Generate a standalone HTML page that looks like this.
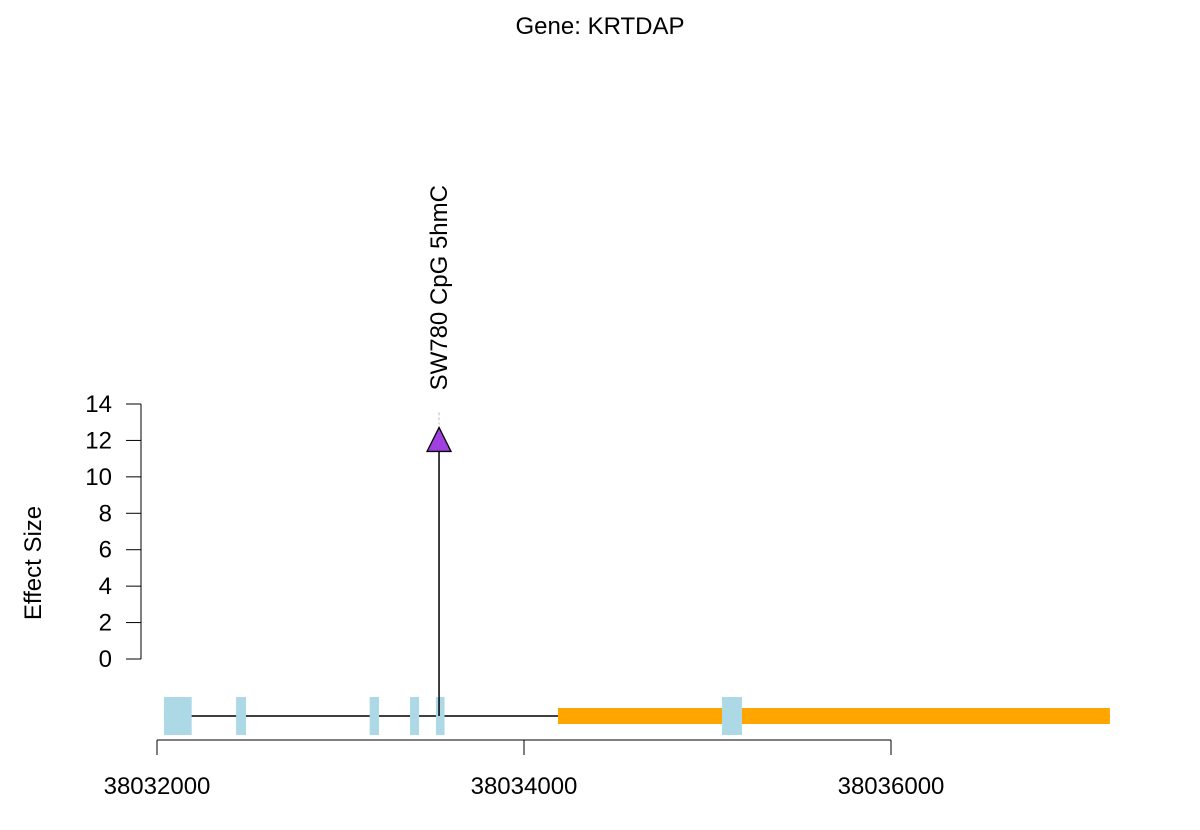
<!DOCTYPE html>
<html><head><meta charset="utf-8"><style>
body{margin:0;background:#fff}
svg{display:block;font-family:"Liberation Sans",sans-serif}
</style></head><body>
<svg id="chart" width="1200" height="830">
<text x="600" y="34" text-anchor="middle" font-size="24">Gene: KRTDAP</text>
<text transform="translate(41,563) rotate(-90)" text-anchor="middle" font-size="24">Effect Size</text>
<g id="g"></g>
</svg>
<script>
const xTicks=[38032000,38034000,38036000];
const yTicks=[0,2,4,6,8,10,12,14];
const exonStarts=[38032038,38032431,38033159,38033379,38033520,38035079];
const exonEnds=[38032189,38032485,38033210,38033428,38033567,38035188];
const geneStart=38032038, geneEnd=38037193;
const utrStart=38034185, utrEnd=38037193;
const pointPos=[38033537];
const pointVal=[12];
const pointLabels=["SW780 CpG 5hmC"];
const NS="http://www.w3.org/2000/svg";
const g=document.getElementById('g');
const X=v=>157+(v-38032000)*367/2000;
const Y=v=>659-v*(255/14);
function mk(t,a){const e=document.createElementNS(NS,t);for(const k in a)e.setAttribute(k,a[k]);g.appendChild(e);return e;}
let e=mk('line',{x1:141,x2:141,y1:Y(0),y2:Y(14),stroke:'#000'});


yTicks.forEach(t=>{
 let l=mk('line',{x1:126,x2:141,y1:Y(t),y2:Y(t),stroke:'#000'});
 
 
 let tx=mk('text',{x:112,y:Y(t)+8,'text-anchor':'end','font-size':24});
 tx.textContent=t;
 
 
});
e=mk('line',{x1:X(xTicks[0]),x2:X(xTicks[xTicks.length-1]),y1:740,y2:740,stroke:'#000'});


xTicks.forEach(t=>{
 let l=mk('line',{x1:X(t),x2:X(t),y1:740,y2:755,stroke:'#000'});
 
 
 let tx=mk('text',{x:X(t),y:794,'text-anchor':'middle','font-size':24});
 tx.textContent=t;
 
 
});
e=mk('line',{x1:X(geneStart),x2:X(geneEnd),y1:716,y2:716,stroke:'#000','stroke-width':1.5});


e=mk('rect',{x:X(utrStart),y:708,width:X(utrEnd)-X(utrStart),height:16,fill:'#ffa500'});


exonStarts.forEach((s,i)=>{
 let r=mk('rect',{x:X(s),y:697,width:X(exonEnds[i])-X(s),height:38,fill:'#add8e6'});
 
 
});
pointPos.forEach((p,i)=>{
 const x=X(p),y=Y(pointVal[i]);
 let s=mk('line',{x1:x,x2:x,y1:716,y2:y,stroke:'#000','stroke-width':1.5});
 
 
 let d=mk('line',{x1:x,x2:x,y1:y-28,y2:y-16,stroke:'#bbb','stroke-dasharray':'3,2'});
 
 
 let tri=mk('polygon',{points:`${x-12},${y+11} ${x+12},${y+11} ${x},${y-13}`,fill:'#a040e0',stroke:'#000','stroke-width':1.3});
 
 
 let t=mk('text',{transform:`translate(${x+8},${y-50}) rotate(-90)`,'font-size':24});
 t.textContent=pointLabels[i];
 
 
});
</script>
</body></html>
